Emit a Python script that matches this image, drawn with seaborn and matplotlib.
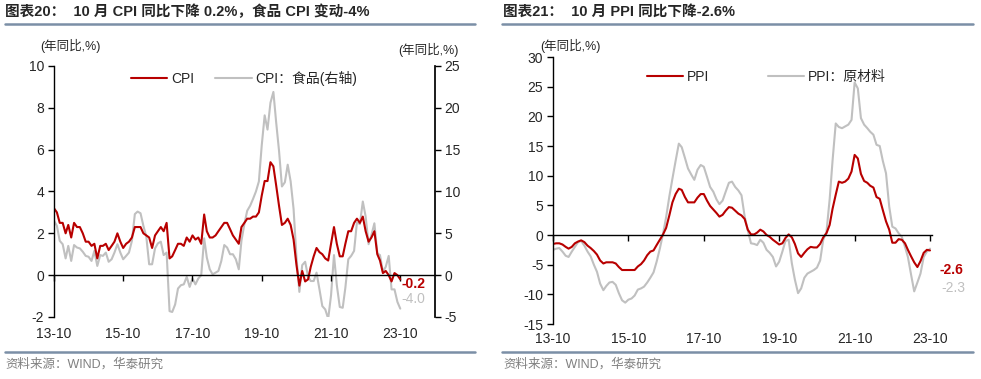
import numpy as np
import pandas as pd
import matplotlib
matplotlib.use("Agg")
import matplotlib.pyplot as plt
from matplotlib.lines import Line2D
import seaborn as sns

# monthly data, 2013-10 .. 2023-10
dates = pd.date_range("2013-10-01", "2023-10-01", freq="MS")

cpi = [3.2, 3.0, 2.5,
       2.5, 2.0, 2.4, 1.8, 2.5, 2.3, 2.3, 2.0, 1.6, 1.6, 1.4, 1.5,
       0.8, 1.4, 1.4, 1.5, 1.2, 1.4, 1.6, 2.0, 1.6, 1.3, 1.5, 1.6,
       1.8, 2.3, 2.3, 2.3, 2.0, 1.9, 1.8, 1.3, 1.9, 2.1, 2.3, 2.1,
       2.5, 0.8, 0.9, 1.2, 1.5, 1.5, 1.4, 1.8, 1.6, 1.9, 1.7, 1.8,
       1.5, 2.9, 2.1, 1.8, 1.8, 1.9, 2.1, 2.3, 2.5, 2.5, 2.2, 1.9,
       1.7, 1.5, 2.3, 2.5, 2.7, 2.7, 2.8, 2.8, 3.0, 3.8, 4.5, 4.5,
       5.4, 5.2, 4.3, 3.3, 2.4, 2.5, 2.7, 2.4, 1.7, 0.5, -0.5, 0.2,
       -0.3, -0.2, 0.4, 0.9, 1.3, 1.1, 1.0, 0.8, 0.7, 1.5, 2.3, 1.5,
       0.9, 0.9, 1.5, 2.1, 2.1, 2.5, 2.7, 2.5, 2.8, 2.1, 1.6, 1.8,
       2.1, 1.0, 0.7, 0.1, 0.2, 0.0, -0.3, 0.1, 0.0, -0.2]

cpi_food = [6.5, 5.9, 4.1,
            3.7, 2.0, 3.5, 1.7, 3.6, 3.3, 3.2, 2.8, 2.3, 2.2, 1.7, 2.9,
            1.1, 2.4, 2.3, 2.7, 1.6, 1.9, 2.7, 3.7, 2.7, 1.9, 2.3, 2.7,
            4.1, 7.3, 7.6, 7.4, 5.9, 4.6, 1.3, 1.3, 3.2, 3.8, 4.0, 2.4,
            2.7, -4.3, -4.4, -3.5, -1.6, -1.2, -1.1, -0.2, -1.4, -0.4, -1.1, -0.4,
            0.0, 4.4, 2.1, 0.7, 0.1, 0.3, 0.5, 1.7, 3.6, 3.3, 2.5, 2.5,
            1.9, 0.7, 4.1, 6.1, 7.7, 8.3, 9.1, 10.0, 11.2, 15.5, 19.1, 17.4,
            20.6, 21.9, 18.3, 14.8, 10.6, 11.1, 13.2, 11.2, 7.9, 2.2, -2.0, 1.2,
            1.6, -0.2, -0.7, -0.7, 0.3, -1.7, -3.7, -4.1, -5.2, -2.4, 2.4, -1.2,
            -3.8, -3.9, -1.5, 1.9, 2.3, 2.9, 6.3, 6.1, 8.8, 7.0, 3.7, 4.8,
            6.2, 2.6, 2.4, 0.4, 1.0, 2.3, -1.7, -1.7, -3.2, -4.0]

ppi = [-1.5, -1.4, -1.4,
       -1.6, -2.0, -2.3, -2.0, -1.4, -1.1, -0.9, -1.2, -1.8, -2.2, -2.7, -3.3,
       -4.3, -4.8, -4.6, -4.6, -4.6, -4.8, -5.4, -5.9, -5.9, -5.9, -5.9, -5.9,
       -5.3, -4.9, -4.3, -3.4, -2.8, -2.6, -1.7, -0.8, 0.1, 1.2, 3.3, 5.5,
       6.9, 7.8, 7.6, 6.4, 5.5, 5.5, 5.5, 6.3, 6.9, 6.9, 5.8, 4.9,
       4.3, 3.7, 3.1, 3.4, 4.1, 4.7, 4.6, 4.1, 3.6, 3.3, 2.7, 0.9,
       0.1, 0.1, 0.4, 0.9, 0.6, 0.0, -0.3, -0.8, -1.2, -1.6, -1.4, -0.5,
       0.1, -0.4, -1.5, -3.1, -3.7, -3.0, -2.4, -2.0, -2.1, -2.1, -1.5, -0.4,
       0.3, 1.7, 4.4, 6.8, 9.0, 8.8, 9.0, 9.5, 10.7, 13.5, 12.9, 10.3,
       9.1, 8.8, 8.3, 8.0, 6.4, 6.1, 4.2, 2.3, 0.9, -1.3, -1.3, -0.7,
       -0.8, -1.4, -2.5, -3.6, -4.6, -5.4, -4.4, -3.0, -2.5, -2.6]

ppi_raw = [-2.5, -2.3, -2.2, -2.8, -3.5, -3.7, -2.8, -2.0, -1.2, -1.0,
           -1.8, -2.8, -3.6, -5.0, -6.2, -8.2, -9.3, -8.6, -8.0, -7.9,
           -8.4, -9.8, -11.0, -11.4, -10.9, -10.7, -10.2, -9.2, -9.0, -8.7,
           -8.0, -7.2, -6.3, -4.5, -2.3, 0.2, 3.0, 6.5, 9.5, 12.5,
           15.4, 14.8, 13.0, 11.2, 10.2, 9.3, 11.0, 11.8, 11.5, 9.8,
           8.1, 7.3, 6.0, 5.2, 5.8, 7.3, 8.8, 9.0, 8.1, 7.5,
           6.7, 3.1, 0.8, -1.4, -1.5, -1.7, -0.8, -1.3, -2.5, -3.0,
           -3.7, -5.3, -4.5, -2.8, -1.0, -0.8, -4.8, -7.5, -9.8, -9.0,
           -7.2, -6.5, -6.2, -5.9, -5.5, -4.3, -0.8, 0.5, 6.0, 12.5,
           18.8, 18.2, 18.0, 18.3, 18.6, 19.4, 25.7, 24.7, 19.7, 18.6,
           18.0, 17.4, 16.9, 15.2, 15.0, 12.5, 10.4, 4.8, 1.4, 1.1,
           0.3, -0.3, -2.0, -3.7, -6.7, -9.5, -8.0, -6.5, -3.7, -2.8, -2.3]

tick_dates = pd.date_range("2013-10-01", "2023-10-01", freq="24MS")
tick_labels = ["13-10", "15-10", "17-10", "19-10", "21-10", "23-10"]

RED = "#B80000"
GREY = "#C0C0C0"
RULE = "#7B8FA6"
FONTS = ["Liberation Sans", "Noto Sans CJK SC", "DejaVu Sans"]

sns.set_theme(style="white")
plt.rcParams["font.family"] = FONTS
plt.rcParams["axes.unicode_minus"] = False

fig = plt.figure(figsize=(9.81, 3.79), dpi=100)


def style_axis(ax, label_pad):
    ax.spines["top"].set_visible(False)
    ax.spines["right"].set_visible(False)
    ax.spines["bottom"].set_position(("data", 0))
    for s in ["left", "bottom"]:
        ax.spines[s].set_color("black")
        ax.spines[s].set_linewidth(1.0)
    ax.set_xticks(tick_dates)
    ax.tick_params(axis="y", direction="out", length=4, width=1, color="black",
                   labelsize=10, left=True, pad=3)
    ax.tick_params(axis="x", direction="out", length=4, width=1, color="black",
                   bottom=True, labelbottom=False)
    ax.set_xlabel("")
    ax.set_ylabel("")
    ax.grid(False)
    # date labels sit at the bottom of the panel, not on the zero line
    sec = ax.secondary_xaxis("bottom")
    sec.set_xticks(tick_dates, tick_labels)
    sec.spines["bottom"].set_visible(False)
    sec.tick_params(axis="x", length=0, labelsize=10, pad=label_pad)


# ---- left panel: CPI ----
ax1 = fig.add_axes([0.0550, 0.1636, 0.3884, 0.6623])
sns.lineplot(x=dates, y=cpi, ax=ax1, color=RED, lw=1.5)
ax1b = ax1.twinx()
sns.lineplot(x=dates, y=cpi_food, ax=ax1b, color=GREY, lw=1.5)
ax1.set_zorder(ax1b.get_zorder() + 1)
ax1.patch.set_visible(False)

ax1.set_ylim(-2, 10)
ax1.set_yticks(range(-2, 11, 2))
ax1.set_xlim(dates[0], pd.Timestamp("2024-10-01"))
style_axis(ax1, 7)

ax1b.set_ylim(-5, 25)
ax1b.set_yticks(range(-5, 26, 5))
for s in ["top", "left", "bottom"]:
    ax1b.spines[s].set_visible(False)
ax1b.spines["right"].set_color("black")
ax1b.tick_params(axis="y", direction="out", length=4, width=1, color="black",
                 labelsize=10, right=True, pad=3)
ax1b.set_ylabel("")
ax1b.grid(False)

ax1.annotate(f"{cpi[-1]:.1f}", xy=(dates[-1], cpi[-1]), xytext=(1, -3),
             textcoords="offset points", color=RED, fontsize=10,
             fontweight="bold", va="center", ha="left")
ax1b.annotate(f"{cpi_food[-1]:.1f}", xy=(dates[-1], cpi_food[-1]), xytext=(1, 7),
              textcoords="offset points", color=GREY, fontsize=10,
              va="center", ha="left")

h1 = [Line2D([], [], color=RED, lw=1.5), Line2D([], [], color=GREY, lw=1.5)]
ax1.legend(h1, ["CPI", "CPI：食品(右轴)"], loc="upper left",
           bbox_to_anchor=(0.17, 1.03), ncol=2, frameon=False, fontsize=10,
           handlelength=2.6, columnspacing=1.5, handletextpad=0.3)

# ---- right panel: PPI ----
ax2 = fig.add_axes([0.5637, 0.1451, 0.3863, 0.7045])
sns.lineplot(x=dates, y=ppi_raw, ax=ax2, color=GREY, lw=1.5)
sns.lineplot(x=dates, y=ppi, ax=ax2, color=RED, lw=1.5)
ax2.set_ylim(-15, 30)
ax2.set_yticks(range(-15, 31, 5))
ax2.set_xlim(dates[0], pd.Timestamp("2023-10-20"))
style_axis(ax2, 6)

ax2.annotate(f"{ppi[-1]:.1f}", xy=(dates[-1], ppi[-1]), xytext=(7, -14),
             textcoords="offset points", color=RED, fontsize=10,
             fontweight="bold", va="center", ha="left")
ax2.annotate(f"{ppi_raw[-1]:.1f}", xy=(dates[-1], ppi_raw[-1]), xytext=(8, -28),
             textcoords="offset points", color=GREY, fontsize=10,
             va="center", ha="left")

h2 = [Line2D([], [], color=RED, lw=1.5), Line2D([], [], color=GREY, lw=1.5)]
ax2.legend(h2, ["PPI", "PPI：原材料"], loc="upper left",
           bbox_to_anchor=(0.215, 1.0), ncol=2, frameon=False, fontsize=10,
           handlelength=2.6, columnspacing=4.2, handletextpad=0.3)

# ---- titles, unit labels, rules, sources ----
fig.text(5 / 981, 1 - 12 / 379, "图表20：  10 月 CPI 同比下降 0.2%，食品 CPI 变动-4%",
         fontsize=10.5, fontweight="bold", va="center", ha="left")
fig.text(503 / 981, 1 - 12 / 379, "图表21：  10 月 PPI 同比下降-2.6%",
         fontsize=10.5, fontweight="bold", va="center", ha="left")

for x0, x1 in [(5, 475), (502, 973)]:
    fig.add_artist(Line2D([x0 / 981, x1 / 981], [1 - 24 / 379] * 2, color=RULE, lw=1.8))
    fig.add_artist(Line2D([x0 / 981, x1 / 981], [1 - 352 / 379] * 2, color=RULE, lw=1.8))

fig.text(40 / 981, 1 - 46 / 379, "(年同比,%)", fontsize=9, va="center", ha="left")
fig.text(398 / 981, 1 - 50 / 379, "(年同比,%)", fontsize=9, va="center", ha="left")
fig.text(540 / 981, 1 - 46 / 379, "(年同比,%)", fontsize=9, va="center", ha="left")

fig.text(5 / 981, 1 - 364 / 379, "资料来源：WIND，华泰研究", fontsize=9,
         color="#808080", va="center", ha="left")
fig.text(503 / 981, 1 - 364 / 379, "资料来源：WIND，华泰研究", fontsize=9,
         color="#808080", va="center", ha="left")

fig.savefig("out.png", dpi=100)
